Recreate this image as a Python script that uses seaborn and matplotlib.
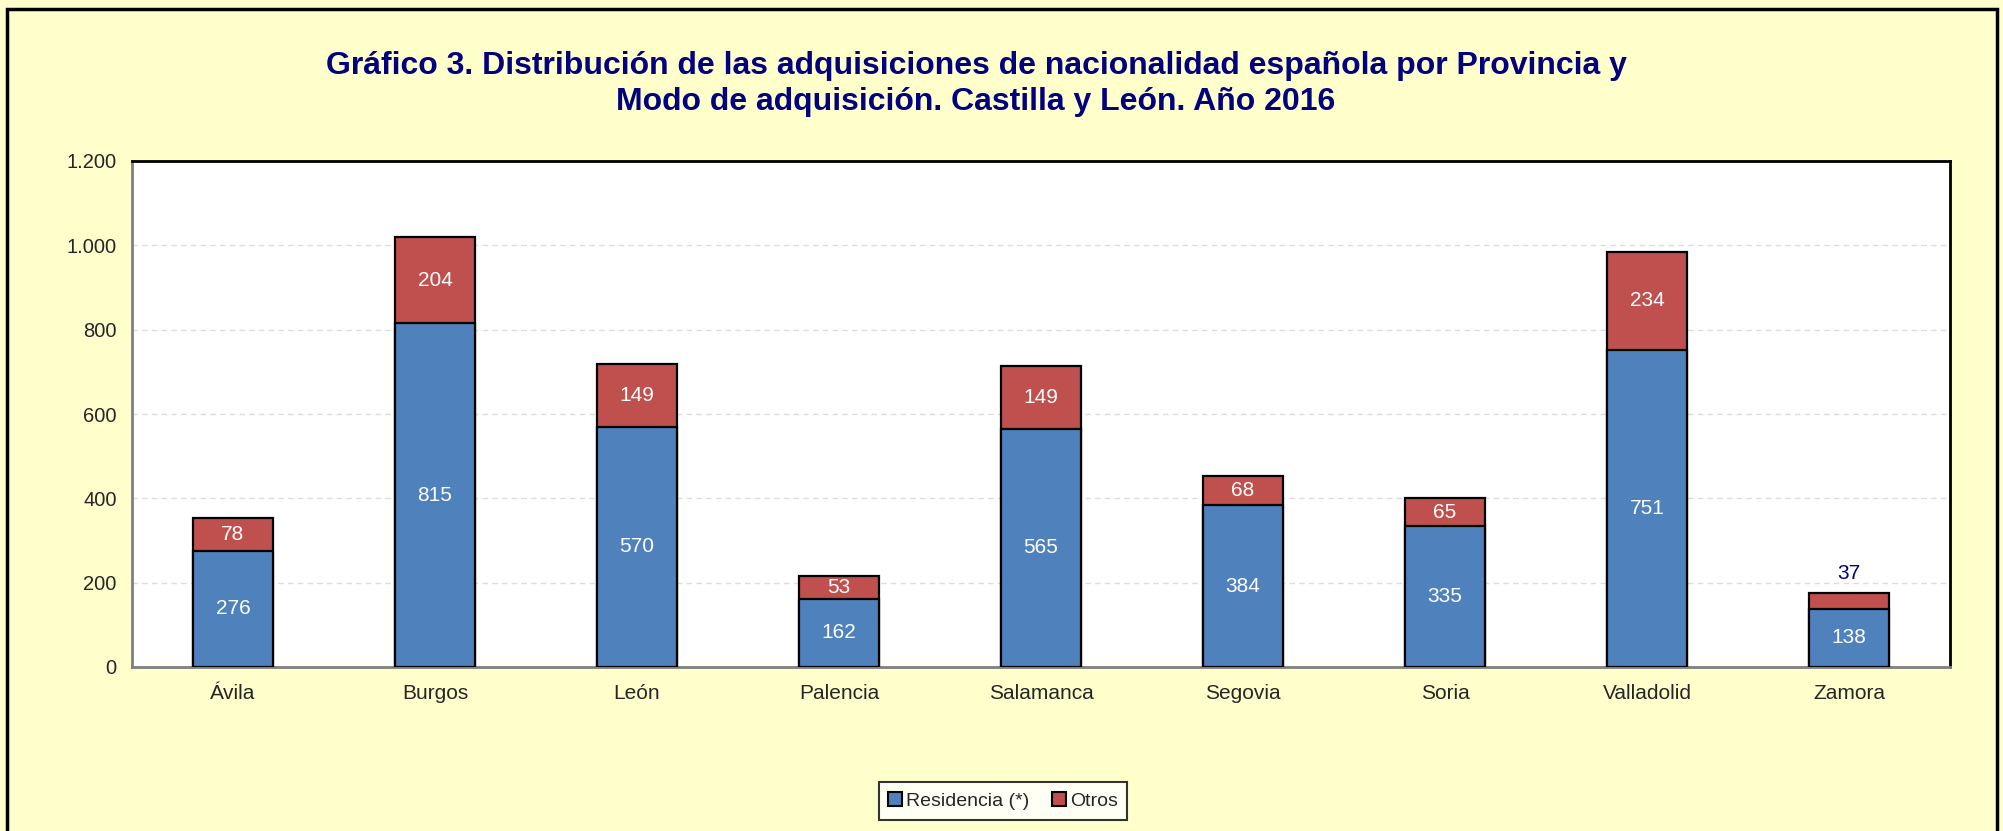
import numpy as np
import pandas as pd
import matplotlib
matplotlib.use("Agg")
import matplotlib.pyplot as plt
from matplotlib.patches import Rectangle, Patch
import seaborn as sns

provincias = ["Ávila", "Burgos", "León", "Palencia", "Salamanca", "Segovia", "Soria", "Valladolid", "Zamora"]
residencia = [276, 815, 570, 162, 565, 384, 335, 751, 138]
otros = [78, 204, 149, 53, 149, 68, 65, 234, 37]
yticks = [0, 200, 400, 600, 800, 1000, 1200]
ytick_labels = ["0", "200", "400", "600", "800", "1.000", "1.200"]

BLUE = "#4F81BD"
RED = "#C0504D"
NAVY = "#000080"
BG = "#FFFFCC"

df = pd.DataFrame({"provincia": provincias, "residencia": residencia, "otros": otros})
df["total"] = df["residencia"] + df["otros"]

sns.set_style("white")
plt.rcParams["font.family"] = ["Liberation Sans", "DejaVu Sans"]

fig = plt.figure(figsize=(20.03, 8.31), dpi=100, facecolor=BG)
ax = fig.add_axes([132 / 2003, 1 - 667 / 831, 1818 / 2003, 506 / 831])
ax.set_facecolor("white")

# stacked bars: total in red, residencia drawn over it in blue
sns.barplot(data=df, x="provincia", y="total", color=RED, width=0.4,
            edgecolor="black", linewidth=1.6, saturation=1, ax=ax, zorder=3)
sns.barplot(data=df, x="provincia", y="residencia", color=BLUE, width=0.4,
            edgecolor="black", linewidth=1.6, saturation=1, ax=ax, zorder=4)

# value labels (small segments get the label above the bar)
for i, row in df.iterrows():
    ax.text(i, row["residencia"] / 2, str(row["residencia"]), ha="center", va="center",
            color="white", fontsize=15, zorder=5)
    if row["otros"] >= 50:
        ax.text(i, row["residencia"] + row["otros"] / 2, str(row["otros"]), ha="center",
                va="center", color="white", fontsize=15, zorder=5)
    else:
        ax.annotate(str(row["otros"]), (i, row["total"]), xytext=(0, 14),
                    textcoords="offset points", ha="center", va="center",
                    color=NAVY, fontsize=15, zorder=5)

ax.set_xlim(-0.5, 8.5)
ax.set_ylim(0, 1200)
ax.set_yticks(yticks)
ax.set_yticklabels(ytick_labels, fontsize=14.5)
ax.set_xticks(np.arange(-0.5, 9, 1), minor=True)
ax.tick_params(axis="x", which="major", length=0, labelsize=15, pad=12)
ax.tick_params(axis="x", which="minor", length=5, width=1.5, color="#808080", direction="out")
ax.tick_params(axis="y", length=5, width=1.5, color="#808080", direction="out", pad=6)
ax.set_xlabel("")
ax.set_ylabel("")
ax.yaxis.grid(True, linestyle=(0, (4, 3)), color="#DDDDDD", linewidth=1, zorder=0)
ax.set_axisbelow(True)

for side in ["left", "bottom"]:
    ax.spines[side].set_color("#808080")
    ax.spines[side].set_linewidth(2)
for side in ["top", "right"]:
    ax.spines[side].set_color("black")
    ax.spines[side].set_linewidth(2)

fig.text(976 / 2003, 1 - 66 / 831,
         "Gráfico 3. Distribución de las adquisiciones de nacionalidad española por Provincia y",
         ha="center", va="center", fontsize=23, fontweight="bold", color=NAVY,
         family=["Liberation Sans Narrow", "Liberation Sans"])
fig.text(976 / 2003, 1 - 102 / 831,
         "Modo de adquisición. Castilla y León. Año 2016",
         ha="center", va="center", fontsize=23, fontweight="bold", color=NAVY,
         family=["Liberation Sans Narrow", "Liberation Sans"])

handles = [Patch(facecolor=BLUE, edgecolor="black", linewidth=1.5, label="Residencia (*)"),
           Patch(facecolor=RED, edgecolor="black", linewidth=1.5, label="Otros")]
leg = fig.legend(handles=handles, loc="center", bbox_to_anchor=(1003 / 2003, 1 - 801 / 831),
                 ncol=2, frameon=True, fancybox=False, fontsize=14, handlelength=0.7,
                 handleheight=0.7, handletextpad=0.2, columnspacing=1.2, borderpad=0.5)
leg.get_frame().set_edgecolor("black")
leg.get_frame().set_linewidth(1.5)
leg.get_frame().set_facecolor("white")

fig.patches.append(Rectangle((7 / 2003, -0.05), 1990 / 2003, 1 - 9 / 831 + 0.05,
                             transform=fig.transFigure, fill=False, edgecolor="black",
                             linewidth=2.5))

fig.savefig("out.png", dpi=100, facecolor=BG)
